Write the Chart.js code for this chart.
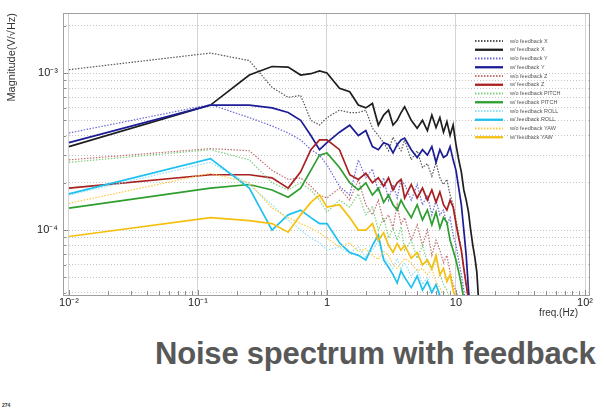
<!DOCTYPE html>
<html>
<head>
<meta charset="utf-8">
<script src="https://cdn.jsdelivr.net/npm/chart.js@4.4.0/dist/chart.umd.min.js"></script>
<style>
  html, body { margin: 0; padding: 0; background: #fff; }
  body { width: 604px; height: 413px; position: relative; overflow: hidden; font-family: "Liberation Sans", Arial, sans-serif; }
  #wrap { position: absolute; left: 0; top: 0; width: 604px; height: 330px; }
  #title { position: absolute; left: 155px; top: 338px; font-weight: bold; font-size: 31px; letter-spacing: -0.2px; line-height: 32px; color: #585858; white-space: nowrap; }
  #page { position: absolute; left: 2px; top: 402px; font-size: 5px; color: #333; font-weight: bold; }
</style>
</head>
<body>
<div id="wrap"><canvas id="chart"></canvas></div>
<div id="title">Noise spectrum with feedback</div>
<div id="page">274</div>
<script>
// frequency bins (Hz)
const freq = [0.01, 0.125, 0.25, 0.375, 0.5, 0.625, 0.75, 0.875, 1,
  1.25, 1.5, 1.75, 2, 2.25, 2.5, 2.75, 3, 3.25, 3.5, 3.75, 4,
  4.5, 5, 5.5, 6, 6.5, 7, 7.5, 8, 8.5, 9, 9.5,
  10, 10.5, 11, 11.5, 12, 12.5, 13, 13.5, 14, 14.5, 15];

// magnitudes V/sqrt(Hz)
const woX = [1.05e-3, 1.34e-3, 1.2e-3, 8.1e-4, 7.0e-4, 7.2e-4, 5.0e-4, 4.66e-4, 5.2e-4,
  5.8e-4, 5.6e-4, 5.6e-4, 5.8e-4, 4.45e-4, 4.0e-4, 3.6e-4, 3.2e-4, 3.9e-4, 3.5e-4, 3.2e-4, 3.75e-4,
  2.8e-4, 3.2e-4, 2.5e-4, 2.65e-4, 2.2e-4, 2.7e-4, 2.15e-4, 1.95e-4, 2.1e-4, 1.67e-4, 1.45e-4,
  1.16e-4, 9.3e-5, 7.4e-5, 5.6e-5, 4.5e-5, 3.6e-5, 3.0e-5, 2.7e-5, 2.5e-5, 2.3e-5, 2.1e-5];
const wX = [3.4e-4, 6.25e-4, 9.7e-4, 1.1e-3, 1.09e-3, 9.7e-4, 9.9e-4, 1.03e-3, 1.0e-3,
  8.0e-4, 7.6e-4, 6.25e-4, 6.0e-4, 6.4e-4, 4.66e-4, 5.4e-4, 5.8e-4, 4.66e-4, 5.0e-4, 5.6e-4, 6.1e-4,
  5.0e-4, 4.45e-4, 5.0e-4, 4.3e-4, 5.4e-4, 4.5e-4, 5.2e-4, 4.2e-4, 4.9e-4, 4.0e-4, 4.66e-4,
  3.5e-4, 2.8e-4, 2.35e-4, 1.8e-4, 1.55e-4, 1.3e-4, 1.0e-4, 8.0e-5, 6.7e-5, 5.4e-5, 3.5e-5];
const woY = [4.15e-4, 6.3e-4, 5.2e-4, 4.6e-4, 4.15e-4, 3.75e-4, 3.25e-4, 3.0e-4, 2.6e-4,
  1.9e-4, 1.67e-4, 2.8e-4, 2.15e-4, 2.45e-4, 1.75e-4, 2.15e-4, 1.55e-4, 1.95e-4, 1.6e-4, 2.1e-4, 1.95e-4,
  1.55e-4, 1.95e-4, 1.45e-4, 1.67e-4, 1.25e-4, 1.55e-4, 1.25e-4, 1.34e-4, 1.08e-4, 1.2e-4, 9.3e-5,
  8.0e-5, 6.4e-5, 5.2e-5, 4.15e-5, 3.3e-5, 2.9e-5, 2.6e-5, 2.4e-5, 2.2e-5, 2.1e-5, 2.0e-5];
const wY = [3.6e-4, 6.25e-4, 6.25e-4, 6.0e-4, 5.6e-4, 5.0e-4, 4.0e-4, 3.25e-4, 3.6e-4,
  4.2e-4, 4.65e-4, 4.0e-4, 4.3e-4, 3.4e-4, 3.25e-4, 3.6e-4, 3.5e-4, 3.1e-4, 3.5e-4, 3.75e-4, 3.85e-4,
  3.25e-4, 2.9e-4, 3.25e-4, 3.0e-4, 3.4e-4, 2.7e-4, 3.25e-4, 2.9e-4, 3.0e-4, 3.4e-4, 2.8e-4,
  2.4e-4, 1.85e-4, 1.45e-4, 1.0e-4, 6.9e-5, 4.15e-5, 3.0e-5, 2.6e-5, 2.4e-5, 2.2e-5, 2.0e-5];
const woZ = [2.8e-4, 3.3e-4, 3.2e-4, 2.4e-4, 2.1e-4, 2.15e-4, 1.9e-4, 1.67e-4, 1.6e-4,
  1.85e-4, 1.55e-4, 2.1e-4, 1.45e-4, 1.25e-4, 1.55e-4, 1.12e-4, 1.25e-4, 1.03e-4, 1.45e-4, 1.08e-4, 1.2e-4,
  8.6e-5, 1.08e-4, 8.0e-5, 1.0e-4, 6.9e-5, 8.6e-5, 7.45e-5, 6.2e-5, 6.9e-5, 5.4e-5, 4.5e-5,
  4.1e-5, 3.6e-5, 3.0e-5, 2.7e-5, 2.5e-5, 2.3e-5, 2.2e-5, 2.1e-5, 2.0e-5, 2.0e-5, 2.0e-5];
const wZ = [1.85e-4, 2.25e-4, 2.25e-4, 2.15e-4, 1.85e-4, 2.35e-4, 3.25e-4, 3.75e-4, 3.75e-4,
  3.25e-4, 2.25e-4, 2.1e-4, 2.3e-4, 2.0e-4, 2.15e-4, 1.9e-4, 2.15e-4, 1.8e-4, 2.0e-4, 2.1e-4, 1.6e-4,
  1.95e-4, 1.6e-4, 1.85e-4, 1.55e-4, 1.8e-4, 1.5e-4, 1.75e-4, 1.45e-4, 1.34e-4, 1.55e-4, 1.4e-4,
  1.1e-4, 8.9e-5, 7.45e-5, 5.7e-5, 4.5e-5, 3.6e-5, 3.0e-5, 2.7e-5, 2.5e-5, 2.3e-5, 2.1e-5];
const woPitch = [2.7e-4, 3.25e-4, 2.8e-4, 2.0e-4, 1.8e-4, 2.0e-4, 1.8e-4, 1.55e-4, 1.3e-4,
  1.55e-4, 1.4e-4, 1.7e-4, 1.25e-4, 1.4e-4, 1.0e-4, 1.2e-4, 8.9e-5, 1.03e-4, 8.6e-5, 1.05e-4, 7.45e-5,
  8.6e-5, 6.6e-5, 8.0e-5, 6.2e-5, 5.6e-5, 6.6e-5, 5.2e-5, 4.5e-5, 4.15e-5, 3.6e-5, 3.2e-5,
  3.0e-5, 2.8e-5, 2.6e-5, 2.5e-5, 2.4e-5, 2.3e-5, 2.2e-5, 2.1e-5, 2.0e-5, 2.0e-5, 2.0e-5];
const wPitch = [1.38e-4, 1.85e-4, 1.95e-4, 1.8e-4, 1.62e-4, 1.85e-4, 2.4e-4, 3.0e-4, 3.1e-4,
  2.5e-4, 2.0e-4, 1.8e-4, 2.0e-4, 1.67e-4, 1.85e-4, 1.5e-4, 1.67e-4, 1.45e-4, 1.34e-4, 1.55e-4, 1.4e-4,
  1.2e-4, 1.45e-4, 1.16e-4, 1.34e-4, 1.08e-4, 1.3e-4, 1.03e-4, 1.2e-4, 1.12e-4, 8.6e-5, 7.45e-5,
  6.45e-5, 5.4e-5, 4.5e-5, 3.6e-5, 3.0e-5, 2.7e-5, 2.5e-5, 2.3e-5, 2.2e-5, 2.1e-5, 2.0e-5];
const woRoll = [1.67e-4, 2.7e-4, 1.95e-4, 1.45e-4, 1.16e-4, 1.0e-4, 8.9e-5, 8.3e-5, 7.45e-5,
  7.8e-5, 7.1e-5, 7.8e-5, 6.7e-5, 7.45e-5, 8.6e-5, 6.7e-5, 6.2e-5, 5.7e-5, 6.6e-5, 5.6e-5, 6.2e-5,
  5.1e-5, 5.6e-5, 4.5e-5, 5.0e-5, 4.1e-5, 4.5e-5, 3.6e-5, 3.2e-5, 3.0e-5, 2.8e-5, 2.6e-5,
  2.5e-5, 2.4e-5, 2.3e-5, 2.2e-5, 2.1e-5, 2.0e-5, 2.0e-5, 2.0e-5, 2.0e-5, 2.0e-5, 2.0e-5];
const wRoll = [1.7e-4, 2.85e-4, 1.85e-4, 1.0e-4, 1.25e-4, 1.34e-4, 1.2e-4, 1.1e-4, 1.1e-4,
  8.3e-5, 7.2e-5, 6.9e-5, 6.45e-5, 8.0e-5, 9.3e-5, 6.45e-5, 5.8e-5, 5.2e-5, 4.6e-5, 5.5e-5, 5.0e-5,
  4.3e-5, 5.1e-5, 4.15e-5, 4.7e-5, 4.0e-5, 4.5e-5, 3.85e-5, 3.6e-5, 3.2e-5, 3.0e-5, 2.8e-5,
  2.6e-5, 2.5e-5, 2.4e-5, 2.3e-5, 2.2e-5, 2.1e-5, 2.0e-5, 2.0e-5, 2.0e-5, 2.0e-5, 2.0e-5];
const woYaw = [1.48e-4, 2.3e-4, 2.0e-4, 1.38e-4, 1.2e-4, 1.1e-4, 1.03e-4, 9.6e-5, 8.9e-5,
  7.8e-5, 8.3e-5, 7.3e-5, 7.6e-5, 6.9e-5, 6.5e-5, 7.3e-5, 6.9e-5, 6.0e-5, 5.7e-5, 6.2e-5, 6.6e-5,
  6.2e-5, 5.5e-5, 5.7e-5, 5.2e-5, 5.7e-5, 4.7e-5, 4.3e-5, 3.9e-5, 3.4e-5, 3.0e-5, 2.8e-5,
  2.6e-5, 2.5e-5, 2.4e-5, 2.3e-5, 2.2e-5, 2.1e-5, 2.0e-5, 2.0e-5, 2.0e-5, 2.0e-5, 2.0e-5];
const wYaw = [9.1e-5, 1.2e-4, 1.15e-4, 1.1e-4, 9.7e-5, 1.25e-4, 1.5e-4, 1.67e-4, 1.4e-4,
  1.45e-4, 1.2e-4, 1.0e-4, 1.0e-4, 1.1e-4, 8.6e-5, 9.6e-5, 8.0e-5, 7.2e-5, 8.2e-5, 7.45e-5, 8.0e-5,
  6.6e-5, 7.2e-5, 6.0e-5, 6.45e-5, 5.7e-5, 6.9e-5, 5.2e-5, 5.7e-5, 4.7e-5, 5.2e-5, 4.15e-5,
  3.6e-5, 3.2e-5, 2.9e-5, 2.7e-5, 2.5e-5, 2.4e-5, 2.3e-5, 2.2e-5, 2.1e-5, 2.0e-5, 2.0e-5];

const seriesLabels = ['w/o feedback X', 'w/ feedback X', 'w/o feedback Y', 'w/ feedback Y',
  'w/o feedback Z', 'w/ feedback Z', 'w/o feedback PITCH', 'w/ feedback PITCH',
  'w/o feedback ROLL', 'w/ feedback ROLL', 'w/o feedback YAW', 'w/ feedback YAW'];
const seriesValues = [woX, wX, woY, wY, woZ, wZ, woPitch, wPitch, woRoll, wRoll, woYaw, wYaw];

// axis decades and their labels
const xDecades = [0.01, 0.1, 1, 10, 100];
const xDecadeLabels = ['10⁻²', '10⁻¹', '1', '10', '10²'];
const yDecades = [1e-5, 1e-4, 1e-3];
const yDecadeLabels = ['10⁻⁵', '10⁻⁴', '10⁻³'];

const colors = ['#555555', '#1e1e1e', '#6a6ad8', '#1c1c96', '#c07070', '#a82020',
  '#80d080', '#2e9e2e', '#8ee0f8', '#1ec0f0', '#ffc840', '#f5c010'];

const FONT = '"Liberation Sans", Arial, sans-serif';

const datasets = seriesValues.map((vals, i) => {
  const dotted = i % 2 === 0;
  return {
    label: seriesLabels[i],
    data: freq.map((f, j) => ({x: f, y: vals[j]})),
    borderColor: colors[i],
    borderWidth: dotted ? 1.2 : 1.7,
    borderDash: dotted ? [1.5, 1.5] : [],
    pointRadius: 0,
    tension: 0,
    fill: false,
    order: 12 - i
  };
});

function decadeTicks(scale, decades) {
  const out = [];
  decades.forEach(d => {
    for (let k = 1; k <= 9; k++) {
      const v = d * k;
      if (v >= scale.min * 0.999 && v <= scale.max * 1.001) out.push({value: v, major: k === 1});
    }
  });
  scale.ticks = out;
}
function decadeLabel(v, decades, labels) {
  const i = decades.findIndex(d => Math.abs(Math.log10(v) - Math.log10(d)) < 1e-6);
  return i >= 0 ? labels[i] : '';
}

const framePlugin = {
  id: 'frame',
  afterDraw(chart) {
    const {ctx, chartArea: a, scales} = chart;
    ctx.save();
    ctx.strokeStyle = '#8c8c8c';
    ctx.lineWidth = 1;
    ctx.beginPath();
    scales.x.ticks.forEach(t => {
      const px = Math.round(scales.x.getPixelForValue(t.value)) + 0.5;
      ctx.moveTo(px, a.bottom);
      ctx.lineTo(px, a.bottom - (t.major ? 5 : 4));
    });
    scales.y.ticks.forEach(t => {
      const py = Math.round(scales.y.getPixelForValue(t.value)) + 0.5;
      ctx.moveTo(a.left, py);
      ctx.lineTo(a.left + (t.major ? 5 : 3), py);
    });
    ctx.stroke();
    ctx.strokeStyle = '#a0a0a0';
    ctx.strokeRect(Math.round(a.left) + 0.5, Math.round(a.top) + 0.5,
      Math.round(a.right - a.left), Math.round(a.bottom - a.top));
    // x axis title, under the right end of the axis
    ctx.fillStyle = '#333';
    ctx.font = '10px ' + FONT;
    ctx.textAlign = 'right';
    ctx.textBaseline = 'middle';
    ctx.fillText('freq.(Hz)', a.right - 11, a.bottom + 18);
    // legend
    ctx.textAlign = 'left';
    chart.data.datasets.forEach((ds, i) => {
      const y = a.top + 28 + i * 8.75;
      const x0 = a.right - 114;
      ctx.strokeStyle = ds.borderColor;
      ctx.lineWidth = ds.borderWidth + 0.6;
      ctx.setLineDash(ds.borderDash);
      ctx.beginPath();
      ctx.moveTo(x0, y);
      ctx.lineTo(x0 + 28, y);
      ctx.stroke();
      ctx.setLineDash([]);
      ctx.fillStyle = '#555';
      ctx.font = '5.5px ' + FONT;
      ctx.fillText(ds.label, x0 + 35, y);
    });
    ctx.restore();
  }
};

new Chart(document.getElementById('chart').getContext('2d'), {
  type: 'line',
  data: {datasets: datasets},
  plugins: [framePlugin],
  options: {
    responsive: true,
    maintainAspectRatio: false,
    animation: false,
    layout: {padding: {top: 13, right: 15, left: 0, bottom: 0}},
    plugins: {legend: {display: false}, tooltip: {enabled: false}},
    scales: {
      x: {
        type: 'logarithmic',
        min: 0.00899,
        max: 107.4,
        afterBuildTicks: s => decadeTicks(s, xDecades),
        afterFit: s => { s.height = 35; },
        border: {display: false, dash: []},
        grid: {
          color: c => (c.tick && c.tick.major) ? '#d4d4d4' : 'rgba(0,0,0,0)',
          drawTicks: false
        },
        ticks: {
          autoSkip: false, maxRotation: 0, padding: 1,
          color: '#222', font: {family: FONT, size: 11},
          callback: v => decadeLabel(v, xDecades, xDecadeLabels)
        }
      },
      y: {
        type: 'logarithmic',
        min: 3.86e-5,
        max: 2.41e-3,
        afterBuildTicks: s => decadeTicks(s, yDecades),
        afterFit: s => { s.width = 63; },
        border: {display: false, dash: [1, 2]},
        grid: {color: '#c4c4c4', drawTicks: false},
        ticks: {
          autoSkip: false, padding: 5,
          color: '#222', font: {family: FONT, size: 11},
          callback: v => decadeLabel(v, yDecades, yDecadeLabels)
        },
        title: {
          display: true, text: 'Magnitude(V/√Hz)', align: 'end', color: '#333',
          font: {family: FONT, size: 11},
          padding: {top: 5, bottom: 2}
        }
      }
    }
  }
});
</script>
</body>
</html>
